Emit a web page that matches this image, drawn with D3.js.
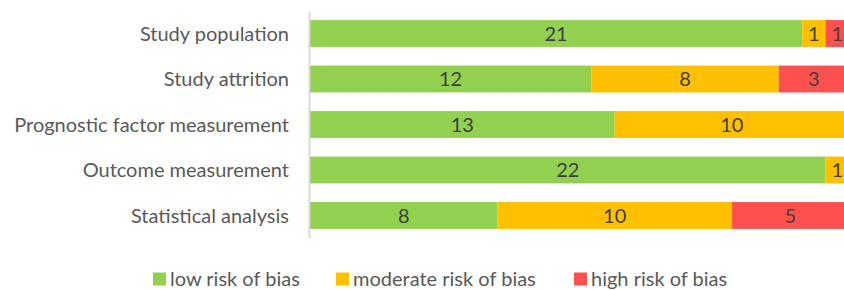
<!DOCTYPE html>
<html><head><meta charset="utf-8">
<script src="https://cdn.jsdelivr.net/npm/d3@7"></script>
<style>body{margin:0;background:#fff}</style>
</head><body><svg id="c" width="844" height="290"></svg>
<script>
const categories = ["Study population","Study attrition","Prognostic factor measurement","Outcome measurement","Statistical analysis"];
const seriesNames = ["low risk of bias","moderate risk of bias","high risk of bias"];
const low = [21,12,13,22,8];
const moderate = [1,8,10,1,10];
const high = [1,3,0,0,5];
const colors = ["#92d050","#ffc000","#ff5050"];

const svg = d3.select("#c");
const font = "Lato, 'Open Sans', sans-serif";
const fs = 20;
const x = d3.scaleLinear().domain([0,23]).range([310,849]);
const y = d3.scaleBand().domain(categories).range([11,238]).paddingInner(0.41).paddingOuter(0.2);

const data = categories.map((c,i)=>({cat:c, low:low[i], moderate:moderate[i], high:high[i]}));
const stack = d3.stack().keys(["low","moderate","high"])(data);

stack.forEach((s,si)=>{
  svg.append("g").selectAll("rect").data(s).join("rect")
    .attr("x",d=>x(d[0])).attr("width",d=>x(d[1])-x(d[0]))
    .attr("y",d=>y(d.data.cat)).attr("height",y.bandwidth())
    .attr("fill",colors[si]);
  svg.append("g").selectAll("text").data(s.filter(d=>d[1]-d[0]>0)).join("text")
    .attr("x",d=>(x(d[0])+x(d[1]))/2)
    .attr("y",d=>y(d.data.cat)+y.bandwidth()/2)
    .attr("dy","0.36em").attr("text-anchor","middle")
    .attr("font-family",font).attr("font-size",fs).attr("fill","#404040")
    .text(d=>d[1]-d[0]);
});

// axis
const ax = svg.append("g").attr("transform","translate(309,0)")
  .call(d3.axisLeft(y).tickSize(0).tickPadding(20));
ax.select(".domain").attr("stroke","#d9d9d9").attr("stroke-width",2);
ax.selectAll("text").attr("font-family",font).attr("font-size",fs).attr("fill","#595959").attr("dy","0.36em");

// legend
const legX = [153,336,574];
const lg = svg.append("g");
seriesNames.forEach((n,i)=>{
  lg.append("rect").attr("x",legX[i]).attr("y",272.5).attr("width",13).attr("height",13).attr("fill",colors[i]);
  lg.append("text").attr("x",legX[i]+17).attr("y",279).attr("dy","0.36em")
    .attr("font-family",font).attr("font-size",fs).attr("fill","#595959").text(n);
});
</script></body></html>
